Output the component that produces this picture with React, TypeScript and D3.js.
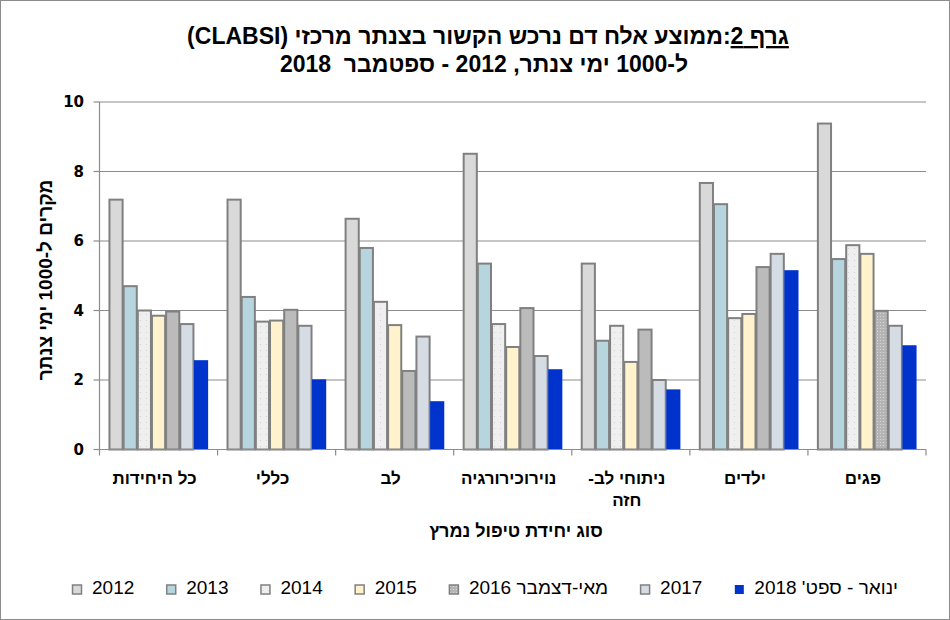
import React, { useEffect, useRef } from "react";
import * as d3 from "d3";

const categories = ["כל היחידות", "כללי", "לב", "נוירוכירורגיה", "ניתוחי לב-חזה", "ילדים", "פגים"];
const seriesNames = ["2012", "2013", "2014", "2015", "מאי-דצמבר 2016", "2017", "ינואר - ספט' 2018"];
const v2012 = [7.19, 7.19, 6.64, 8.51, 5.35, 7.67, 9.38];
const v2013 = [4.70, 4.39, 5.80, 5.35, 3.13, 7.06, 5.48];
const v2014 = [4.00, 3.68, 4.25, 3.61, 3.56, 3.78, 5.88];
const v2015 = [3.85, 3.71, 3.58, 2.95, 2.52, 3.90, 5.63];
const v2016 = [3.97, 4.02, 2.26, 4.07, 3.45, 5.25, 3.99];
const v2017 = [3.61, 3.56, 3.25, 2.69, 2.00, 5.63, 3.56];
const v2018 = [2.57, 2.02, 1.39, 2.31, 1.73, 5.16, 3.00];
const yTicks = [0, 2, 4, 6, 8, 10];
const titleUnderlined = "גרף 2";
const titleRest = ":ממוצע אלח דם נרכש הקשור בצנתר מרכזי (CLABSI)";
const titleLine2 = "ל-1000 ימי צנתר, 2012 - ספטמבר  2018";
const yTitle = "מקרים ל-1000 ימי צנתר";
const xTitle = "סוג יחידת טיפול נמרץ";

const allSeries = [v2012, v2013, v2014, v2015, v2016, v2017, v2018];
const fills = ["#d9d9d9", "#b7d5de", "url(#dots14)", "#fff2cc", "#bbbbbb", "#d6dce4", "#0033cc"];
const legendFills = ["#d9d9d9", "#b7d5de", "url(#dots14)", "#fff2cc", "url(#dots16)", "#d6dce4", "#0033cc"];

export default function App() {
  const ref = useRef<SVGSVGElement>(null);
  useEffect(() => {
    const svg = d3.select(ref.current);
    svg.selectAll("*").remove();
    const W = 950, H = 620;
    const left = 99.5, right = 926, top = 102, bottom = 449.5;

    const defs = svg.append("defs");
    const p1 = defs.append("pattern").attr("id", "dots14").attr("patternUnits", "userSpaceOnUse").attr("width", 6).attr("height", 6);
    p1.append("rect").attr("width", 6).attr("height", 6).attr("fill", "#efefef");
    p1.append("rect").attr("x", 2).attr("y", 2).attr("width", 1).attr("height", 1).attr("fill", "#d0d0d0");
    const p2 = defs.append("pattern").attr("id", "dots16").attr("patternUnits", "userSpaceOnUse").attr("width", 3).attr("height", 3);
    p2.append("rect").attr("width", 3).attr("height", 3).attr("fill", "#b4b4b4");
    p2.append("rect").attr("x", 1).attr("y", 1).attr("width", 1).attr("height", 1).attr("fill", "#d8d8d8");

    svg.append("rect").attr("x", 0.5).attr("y", 0.5).attr("width", W - 1).attr("height", H - 1)
      .attr("fill", "#fff").attr("stroke", "#8c8c8c").attr("stroke-width", 1);

    const x0 = d3.scaleBand<string>().domain(categories).range([left, right]).paddingInner(0.16).paddingOuter(0.08);
    const x1 = d3.scaleBand<number>().domain(d3.range(seriesNames.length)).range([0, x0.bandwidth()]).padding(0);
    const y = d3.scaleLinear().domain([0, 10]).range([bottom, top]);

    svg.append("g").selectAll("line").data(yTicks.filter(t => t > 0)).join("line")
      .attr("x1", left).attr("x2", right).attr("y1", d => y(d)).attr("y2", d => y(d))
      .attr("stroke", "#8c8c8c").attr("stroke-width", 1.2);

    const step = x0.step();
    categories.forEach((c, ci) => {
      allSeries.forEach((s, si) => {
        const xx = (x0(c) as number) + (x1(si) as number);
        const isBlue = si === 6;
        let fill = fills[si];
        if (si === 4 && ci === 6) fill = "url(#dots16)";
        svg.append("rect")
          .attr("x", xx + (isBlue ? 0 : 0.5)).attr("y", y(s[ci]))
          .attr("width", x1.bandwidth() - (isBlue ? 0 : 1)).attr("height", bottom - y(s[ci]))
          .attr("fill", fill)
          .attr("stroke", isBlue ? "none" : "#808080").attr("stroke-width", isBlue ? 0 : 2);
      });
    });

    svg.append("line").attr("x1", left).attr("x2", left).attr("y1", top).attr("y2", bottom).attr("stroke", "#8c8c8c").attr("stroke-width", 1.2);
    svg.append("line").attr("x1", left).attr("x2", right).attr("y1", bottom).attr("y2", bottom).attr("stroke", "#8c8c8c").attr("stroke-width", 1.2);
    svg.append("g").selectAll("line").data(yTicks).join("line")
      .attr("x1", left - 6).attr("x2", left).attr("y1", d => y(d)).attr("y2", d => y(d))
      .attr("stroke", "#8c8c8c").attr("stroke-width", 1.2);
    svg.append("g").selectAll("line").data(d3.range(categories.length + 1)).join("line")
      .attr("x1", d => left + d * step).attr("x2", d => left + d * step).attr("y1", bottom).attr("y2", bottom + 6)
      .attr("stroke", "#8c8c8c").attr("stroke-width", 1.2);
    svg.append("g").selectAll("text").data(yTicks).join("text")
      .attr("x", 84).attr("y", d => y(d)).attr("dy", "0.36em").attr("text-anchor", "end")
      .attr("font-family", "DejaVu Sans").attr("font-weight", "bold").attr("font-size", 15)
      .text(d => String(d));

    const catG = svg.append("g").attr("font-family", "Liberation Sans").attr("font-weight", "bold").attr("font-size", 17);
    categories.forEach(c => {
      const cx = (x0(c) as number) + x0.bandwidth() / 2 - 4;
      const lines = c === "ניתוחי לב-חזה" ? ["ניתוחי לב-", "חזה"] : [c];
      lines.forEach((ln, i) => {
        catG.append("text").attr("x", cx).attr("y", 484 + i * 22).attr("text-anchor", "middle")
          .attr("direction", "rtl").style("unicode-bidi", "plaintext").text(ln);
      });
    });

    svg.append("text").attr("x", 516).attr("y", 537).attr("text-anchor", "middle")
      .attr("font-family", "Liberation Sans").attr("font-weight", "bold").attr("font-size", 18)
      .attr("direction", "rtl").text(xTitle);

    svg.append("text").attr("transform", "translate(52,280) rotate(-90)").attr("text-anchor", "middle")
      .attr("font-family", "Liberation Sans").attr("font-weight", "bold").attr("font-size", 19)
      .attr("direction", "rtl").text(yTitle);

    const t1 = svg.append("text").attr("x", 488).attr("y", 44).attr("text-anchor", "middle")
      .attr("font-family", "Liberation Sans").attr("font-weight", "bold").attr("font-size", 23)
      .attr("direction", "rtl");
    t1.append("tspan").style("text-decoration", "underline").text(titleUnderlined);
    t1.append("tspan").text(titleRest);
    svg.append("text").attr("x", 484).attr("y", 72).attr("text-anchor", "middle")
      .attr("font-family", "Liberation Sans").attr("font-weight", "bold").attr("font-size", 23)
      .attr("direction", "rtl").style("white-space", "pre").text(titleLine2);

    const lg = svg.append("g").attr("font-family", "Liberation Sans").attr("font-size", 19);
    const items: { g: any; w: number }[] = [];
    seriesNames.forEach((n, i) => {
      const g = lg.append("g");
      g.append("rect").attr("x", 0.5).attr("y", -9).attr("width", 9).attr("height", 9)
        .attr("fill", legendFills[i]).attr("stroke", i === 6 ? "none" : "#808080").attr("stroke-width", 1.5);
      const t = g.append("text").attr("x", 20).attr("y", 0).attr("direction", "ltr").style("unicode-bidi", "plaintext").text(n);
      const tw = (t.node() as SVGTextElement).getComputedTextLength();
      items.push({ g, w: 20 + tw });
    });
    const startX = 72, endX = 898;
    const gap = (endX - startX - d3.sum(items, d => d.w)) / (items.length - 1);
    let cx = startX;
    items.forEach(it => {
      it.g.attr("transform", `translate(${cx},594)`);
      cx += it.w + gap;
    });
  }, []);
  return (
    <svg ref={ref} width={950} height={620} style={{ position: "absolute", left: 0, top: 0, display: "block" }} />
  );
}
